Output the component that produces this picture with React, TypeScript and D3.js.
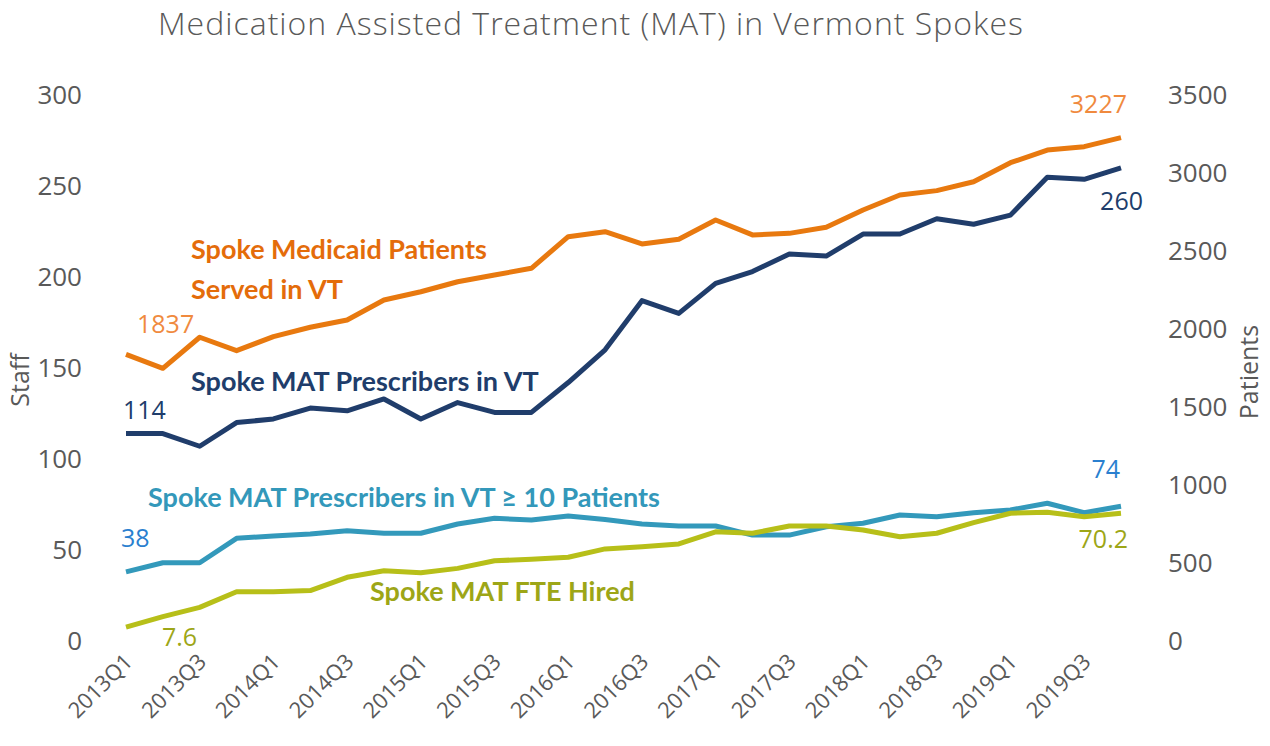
import React from "react";
import * as d3 from "d3";

const quarters: string[] = [];
for (let y = 2013; y <= 2019; y++) for (let q = 1; q <= 4; q++) quarters.push(`${y}Q${q}`);

const tickLabels = quarters.filter((_, i) => i % 2 === 0);

// Patients (right axis)
const medicaidPatients = [1837, 1748, 1947, 1861, 1951, 2011, 2058, 2186, 2239, 2303, 2346, 2389, 2592, 2624, 2545, 2575, 2699, 2603, 2613, 2652, 2763, 2859, 2887, 2944, 3066, 3147, 3169, 3227];
// Staff (left axis)
const prescribers = [114, 114, 107, 120, 122, 128, 126.5, 133, 122, 131, 125.6, 125.6, 142, 160, 187, 180, 196.5, 203, 212.6, 211.5, 223.6, 223.6, 232, 229, 234, 254.8, 253.7, 260];
const prescribers10 = [38, 43, 43, 56.4, 57.7, 58.8, 60.6, 59.2, 59.2, 64.3, 67.4, 66.5, 68.7, 66.7, 64.3, 63.2, 63.2, 58.2, 58.2, 62.8, 64.7, 69.2, 68.3, 70.5, 72, 75.7, 70.5, 74];
const fteHired = [7.6, 13.4, 18.5, 27.1, 27.1, 27.7, 35, 38.6, 37.5, 39.9, 44.1, 44.9, 46, 50.6, 51.8, 53.3, 60, 59.2, 63.2, 63.2, 61, 57.3, 59.2, 65, 70.2, 70.7, 68.3, 70.2];

const leftTicks = [0, 50, 100, 150, 200, 250, 300];
const rightTicks = [0, 500, 1000, 1500, 2000, 2500, 3000, 3500];

const W = 1270, H = 746;
const AXIS_FONT = "'Open Sans', sans-serif";
const LABEL_FONT = "Lato, 'Open Sans', sans-serif";
const GREY = "#595959";

const C_ORANGE = "#E8790F";
const C_NAVY = "#203D6B";
const C_TEAL = "#3399BB";
const C_OLIVE = "#B7BF19";

export default function App() {
  const x = d3.scalePoint<string>().domain(quarters).range([126, 1121]);
  const yL = d3.scaleLinear().domain([0, 300]).range([641, 95]);
  const yR = d3.scaleLinear().domain([0, 3500]).range([641, 95]);

  const lineL = d3.line<number>().x((_, i) => x(quarters[i])!).y((d) => yL(d));
  const lineR = d3.line<number>().x((_, i) => x(quarters[i])!).y((d) => yR(d));

  const n = quarters.length - 1;
  const x0 = x(quarters[0])!;
  const xN = x(quarters[n])!;

  return (
    <svg width={W} height={H} style={{ position: "absolute", left: 0, top: 0, background: "#fff" }}>
      <text x={591} y={35} textAnchor="middle" fontFamily={AXIS_FONT} fontWeight={300} fontSize={32} letterSpacing={1} fill={GREY}>
        Medication Assisted Treatment (MAT) in Vermont Spokes
      </text>

      {leftTicks.map((t) => (
        <text key={"l" + t} x={82} y={yL(t)} dy="0.36em" textAnchor="end" fontFamily={AXIS_FONT} fontSize={26} fill={GREY}>
          {t}
        </text>
      ))}
      {rightTicks.map((t) => (
        <text key={"r" + t} x={1168} y={yR(t)} dy="0.36em" textAnchor="start" fontFamily={AXIS_FONT} fontSize={26} fill={GREY}>
          {t}
        </text>
      ))}
      <text transform="translate(29,380) rotate(-90)" textAnchor="middle" fontFamily={AXIS_FONT} fontSize={25} fill={GREY}>
        Staff
      </text>
      <text transform="translate(1258,372) rotate(-90)" textAnchor="middle" fontFamily={AXIS_FONT} fontSize={25} fill={GREY}>
        Patients
      </text>

      {tickLabels.map((q) => (
        <text
          key={q}
          transform={`translate(${x(q)! + 8},663) rotate(-45)`}
          textAnchor="end"
          fontFamily={AXIS_FONT}
          fontSize={22}
          fill={GREY}
        >
          {q}
        </text>
      ))}

      <path d={lineR(medicaidPatients)!} fill="none" stroke={C_ORANGE} strokeWidth={5} strokeLinejoin="round" />
      <path d={lineL(prescribers)!} fill="none" stroke={C_NAVY} strokeWidth={5} strokeLinejoin="round" />
      <path d={lineL(prescribers10)!} fill="none" stroke={C_TEAL} strokeWidth={5} strokeLinejoin="round" />
      <path d={lineL(fteHired)!} fill="none" stroke={C_OLIVE} strokeWidth={5} strokeLinejoin="round" />

      {/* series labels */}
      <g fontFamily={LABEL_FONT} fontWeight={700} fontSize={27}>
        <text x={191} y={259} fill="#E46C0A">Spoke Medicaid Patients</text>
        <text x={191} y={299} fill="#E46C0A">Served in VT</text>
        <text x={191} y={391} fill={C_NAVY}>Spoke MAT Prescribers in VT</text>
        <text x={148} y={507} fill="#3398BA">Spoke MAT Prescribers in VT ≥ 10 Patients</text>
        <text x={370} y={601} fill="#9DA617">Spoke MAT FTE Hired</text>
      </g>

      {/* value labels */}
      <g fontFamily={AXIS_FONT} fontSize={25}>
        <text x={x0 + 11} y={yR(medicaidPatients[0]) - 21} fill="#F08A3E">{medicaidPatients[0]}</text>
        <text x={x0 - 3} y={yL(prescribers[0]) - 15} fill={C_NAVY}>{prescribers[0]}</text>
        <text x={x0 - 5} y={yL(prescribers10[0]) - 25} fill="#2A7FCF">{prescribers10[0]}</text>
        <text x={x0 + 36} y={yL(fteHired[0]) + 19} fill="#9DA617">{fteHired[0]}</text>
        <text x={xN + 6} y={yR(medicaidPatients[n]) - 25} textAnchor="end" fill="#F08A3E">{medicaidPatients[n]}</text>
        <text x={xN + 22} y={yL(prescribers[n]) + 42} textAnchor="end" fill={C_NAVY}>{prescribers[n]}</text>
        <text x={xN - 1} y={yL(prescribers10[n]) - 28} textAnchor="end" fill="#2A7FCF">{prescribers10[n]}</text>
        <text x={xN + 7} y={yL(fteHired[n]) + 35} textAnchor="end" fill="#9DA617">{fteHired[n]}</text>
      </g>
    </svg>
  );
}
